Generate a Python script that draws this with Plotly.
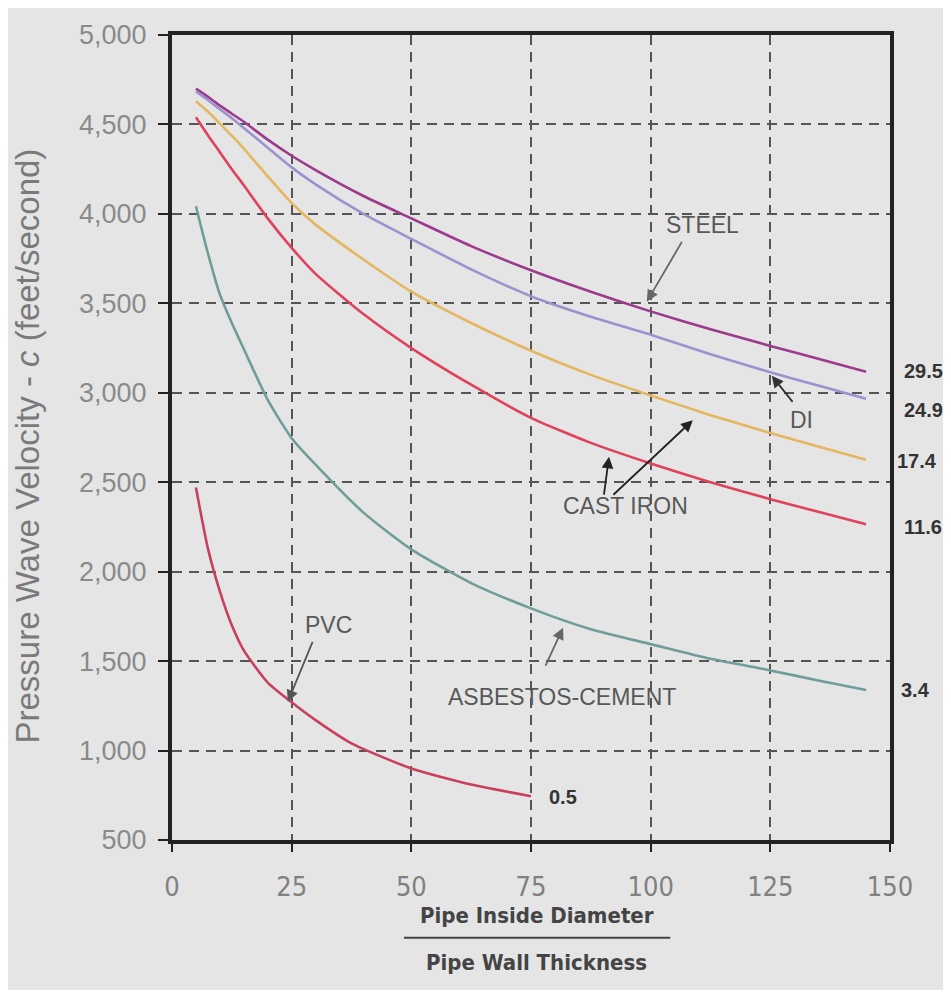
import plotly.graph_objects as go

# ---- data ----
ratio = [5, 7.5, 10, 12.5, 15, 20, 25, 30, 40, 50, 62.5, 75, 87.5, 100, 112.5, 125, 135, 145]
steel = [4700, 4655, 4605, 4560, 4515, 4415, 4325, 4245, 4100, 3975, 3820, 3685, 3565, 3455, 3355, 3262, 3190, 3118]
ductile_iron = [4685, 4637, 4585, 4535, 4480, 4370, 4260, 4165, 4000, 3860, 3690, 3540, 3425, 3325, 3215, 3115, 3040, 2967]
cast_iron_17 = [4630, 4572, 4505, 4437, 4365, 4210, 4060, 3940, 3745, 3565, 3390, 3235, 3100, 2985, 2875, 2775, 2700, 2625]
cast_iron_11 = [4540, 4440, 4345, 4250, 4160, 3975, 3810, 3665, 3440, 3250, 3045, 2860, 2720, 2605, 2500, 2405, 2335, 2265]
asbestos = [4043, 3780, 3550, 3390, 3245, 2960, 2746, 2598, 2330, 2125, 1936, 1795, 1678, 1595, 1513, 1448, 1392, 1338]
ratio_pvc = [5, 7.5, 10, 12.5, 15, 20, 25, 30, 37.5, 50, 62.5, 75]
pvc = [2470, 2130, 1890, 1700, 1560, 1380, 1270, 1170, 1040, 900, 810, 745]

x_ticks = [0, 25, 50, 75, 100, 125, 150]
y_ticks = [500, 1000, 1500, 2000, 2500, 3000, 3500, 4000, 4500, 5000]

end_labels = ["29.5", "24.9", "17.4", "11.6", "3.4"]
end_label_x = [1.046, 1.046, 1.037, 1.046, 1.036]
end_label_y = [3123, 2902, 2620, 2251, 1340]

series = [
    (ratio, steel, "#9c3a8e"),
    (ratio, ductile_iron, "#9a93cf"),
    (ratio, cast_iron_17, "#e6b65e"),
    (ratio, cast_iron_11, "#e0415c"),
    (ratio, asbestos, "#6f9d99"),
    (ratio_pvc, pvc, "#c9405f"),
]

BG = "#e5e5e5"
fig = go.Figure()
for xs, ys, col in series:
    fig.add_trace(go.Scatter(x=xs, y=ys, mode="lines",
                             line=dict(color=col, width=2.6, shape="spline", smoothing=0.6),
                             showlegend=False, hoverinfo="skip"))

ann = []
# text labels
for txt, x, y in [("STEEL", 110.9, 3940), ("DI", 131.6, 2847), ("CAST IRON", 94.8, 2366),
                  ("ASBESTOS-CEMENT", 81.5, 1301), ("PVC", 32.6, 1704)]:
    ann.append(dict(x=x, y=y, xref="x", yref="y", text=txt, showarrow=False,
                    xanchor="center", yanchor="middle",
                    font=dict(family="Arial", size=23, color="#585858")))
# arrows (tip x,y ; tail ax,ay)
for x, y, ax, ay, col in [(99.2, 3509, 106.7, 3852, "#666666"),
                          (125.3, 3095, 129.9, 2941, "#333333"),
                          (91.3, 2643, 90.2, 2422, "#222222"),
                          (108.8, 2847, 91.9, 2422, "#222222"),
                          (81.7, 1687, 77.9, 1467, "#666666"),
                          (24.2, 1273, 29.5, 1616, "#555555")]:
    ann.append(dict(x=x, y=y, ax=ax, ay=ay, xref="x", yref="y", axref="x", ayref="y",
                    text="", showarrow=True, arrowhead=2, arrowsize=1.3, arrowwidth=1.8,
                    arrowcolor=col))
# end value labels
for t, x, y in zip(end_labels, end_label_x, end_label_y):
    ann.append(dict(x=x, y=y, xref="paper", yref="y", text="<b>%s</b>" % t, showarrow=False,
                    xanchor="center", yanchor="middle",
                    font=dict(family="Arial", size=20, color="#333333")))
ann.append(dict(x=81.7, y=738, xref="x", yref="y", text="<b>0.5</b>", showarrow=False,
                xanchor="center", yanchor="middle",
                font=dict(family="Arial", size=20, color="#333333")))
# axis titles
ann.append(dict(x=-0.2006, y=0.49, xref="paper", yref="paper", textangle=-90,
                xanchor="center", yanchor="middle",
                text="Pressure Wave Velocity - <i>c</i> (feet/second)", showarrow=False,
                font=dict(family="Arial", size=33, color="#7a7a7a")))
frac_font = dict(family="DejaVu Sans Condensed, Liberation Sans Narrow, Arial Narrow, Arial",
                 size=22, color="#444444")
ann.append(dict(x=0.508, y=-0.0933, xref="paper", yref="paper", text="<b>Pipe Inside Diameter</b>",
                xanchor="center", yanchor="middle", showarrow=False, font=frac_font))
ann.append(dict(x=0.508, y=-0.1522, xref="paper", yref="paper", text="<b>Pipe Wall Thickness</b>",
                xanchor="center", yanchor="middle", showarrow=False, font=frac_font))

# page has an 8px body margin, so the figure is shifted/shrunk to land the plot in place
fig.update_layout(
    width=935, height=982,
    margin=dict(l=164, r=53, t=17, b=150),
    paper_bgcolor=BG, plot_bgcolor=BG,
    annotations=ann,
    shapes=[dict(type="line", xref="paper", yref="paper", x0=0.323, x1=0.694, y0=-0.1215, y1=-0.1215,
                 line=dict(color="#444444", width=2))],
    xaxis=dict(range=[0, 150], tickvals=x_ticks, showgrid=True, gridcolor="#555555",
               griddash="10px,7px", gridwidth=1.6, zeroline=False,
               showline=True, linewidth=4, linecolor="#222222", mirror=True,
               ticks="outside", ticklen=8, tickwidth=2, tickcolor="#222222",
               ticklabelstandoff=12,
               tickfont=dict(family="DejaVu Sans Condensed, Liberation Sans Narrow, Arial Narrow, Arial",
                             size=27, color="#808080")),
    yaxis=dict(range=[500, 5000], tickvals=y_ticks, tickformat=",d", showgrid=True,
               gridcolor="#555555", griddash="10px,7px", gridwidth=1.6, zeroline=False,
               showline=True, linewidth=4, linecolor="#222222", mirror=True,
               ticks="outside", ticklen=10, tickwidth=2, tickcolor="#222222",
               ticklabelstandoff=6,
               tickfont=dict(family="Arial", size=27, color="#8a8a8a")),
)
fig.write_html("out.html")
